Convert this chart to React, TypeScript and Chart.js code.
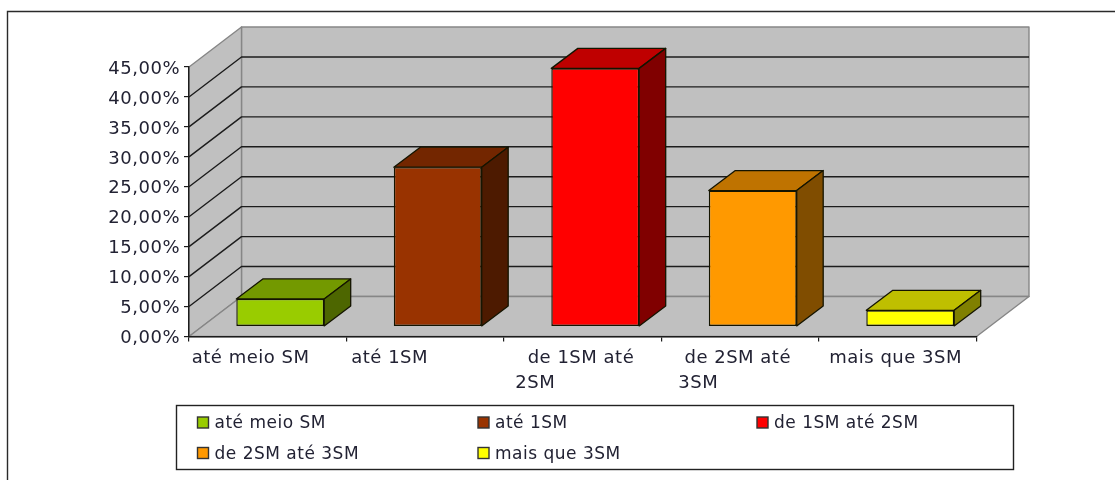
import React, { useEffect, useRef } from "react";
import { Chart, registerables } from "chart.js";

Chart.register(...registerables);

const categories = [["até meio SM"], ["até 1SM"], ["\u00a0\u00a0de 1SM até", "2SM"], ["\u00a0de 2SM até", "3SM"], ["mais que 3SM"]];
const seriesNames = ["até meio SM", "até 1SM", "de 1SM até 2SM", "de 2SM até 3SM", "mais que 3SM"];
const seriesValues = [4.6, 26.6, 43.1, 22.7, 2.7];
const yTicksMax = 45;
const yTickStep = 5;

const frontColors = ["#99cc00", "#993300", "#ff0000", "#ff9900", "#ffff00"];
const topColors = ["#739900", "#732600", "#bf0000", "#bf7300", "#bfbf00"];
const sideColors = ["#4d6600", "#4d1a00", "#800000", "#804d00", "#808000"];

const FONT = '"DejaVu Sans", Verdana, sans-serif';
const TEXT = "#222233";
const WALL = "#c0c0c0";
const EDGE = "#868686";
const GRID = "#1c1c1c";
const DX = 52.5, DY = -40; // depth of the 3D box
const BAR_SHIFT_X = 12.5, BAR_SHIFT_Y = -10;
const BAR_DX = 26.5, BAR_DY = -20;
const LABEL_NUDGE = [0, 2, 8.5, 14, 7.5];
const LEGEND_BOX = { l: 176.5, t: 405.5, r: 1013.5, b: 469.5 };
const LEGEND_CELLS = [[197.5, 422], [478, 422], [757, 422], [197.5, 452.5], [478, 452.5]];

function poly(ctx: CanvasRenderingContext2D, pts: number[][], fill: string | null, stroke: string | null, w = 1) {
  ctx.beginPath();
  pts.forEach((p, i) => (i ? ctx.lineTo(p[0], p[1]) : ctx.moveTo(p[0], p[1])));
  ctx.closePath();
  if (fill) { ctx.fillStyle = fill; ctx.fill(); }
  if (stroke) { ctx.strokeStyle = stroke; ctx.lineWidth = w; ctx.lineJoin = "round"; ctx.stroke(); }
}

const box3d = {
  id: "box3d",
  beforeDraw(chart: any) {
    const { ctx, scales, chartArea: a } = chart;
    (ctx as any).letterSpacing = "0.5px";
    ctx.save();
    ctx.fillStyle = "#fff";
    ctx.fillRect(0, 0, chart.width, chart.height);
    // frame
    ctx.strokeStyle = "#2a2a2a";
    ctx.lineWidth = 1.4;
    ctx.beginPath();
    ctx.moveTo(7.5, 480);
    ctx.lineTo(7.5, 11.5);
    ctx.lineTo(1115, 11.5);
    ctx.stroke();

    const y = scales.y;
    const l = a.left, r = a.right, t = y.getPixelForValue(yTicksMax), b = y.getPixelForValue(0);
    // back wall, side wall, floor
    poly(ctx, [[l + DX, t + DY], [r + DX, t + DY], [r + DX, b + DY], [l + DX, b + DY]], WALL, EDGE, 1.4);
    poly(ctx, [[l, t], [l + DX, t + DY], [l + DX, b + DY], [l, b]], WALL, EDGE, 1.4);
    poly(ctx, [[l, b], [l + DX, b + DY], [r + DX, b + DY], [r, b]], WALL, EDGE, 1.4);
    // grid on the walls
    ctx.strokeStyle = GRID;
    ctx.lineWidth = 1.4;
    y.ticks.forEach((tk: any) => {
      if (tk.value <= 0 || tk.value >= yTicksMax) return;
      const p = y.getPixelForValue(tk.value);
      ctx.beginPath();
      ctx.moveTo(l, p);
      ctx.lineTo(l + DX, p + DY);
      ctx.lineTo(r + DX, p + DY);
      ctx.stroke();
    });
    ctx.restore();

    // individual start of each category label
    scales.x.getLabelItems().forEach((it: any, i: number) => {
      it.options.translation[0] += LABEL_NUDGE[i];
    });
  },
  beforeDatasetDraw(chart: any) {
    chart.ctx.save();
    chart.ctx.translate(BAR_SHIFT_X, BAR_SHIFT_Y);
  },
  afterDatasetDraw(chart: any, args: any) {
    const { ctx } = chart;
    const i = args.index;
    const el = chart.getDatasetMeta(i).data[i];
    if (el) {
      const { x, y, base, width } = el.getProps(["x", "y", "base", "width"], true);
      const L = x - width / 2, R = x + width / 2;
      poly(ctx, [[L, y], [L + BAR_DX, y + BAR_DY], [R + BAR_DX, y + BAR_DY], [R, y]], topColors[i], "#141400", 1.3);
      poly(ctx, [[R, y], [R + BAR_DX, y + BAR_DY], [R + BAR_DX, base + BAR_DY], [R, base]], sideColors[i], "#141400", 1.3);
    }
    ctx.restore();
  },
  afterDraw(chart: any) {
    const { ctx } = chart;
    ctx.save();
    ctx.strokeStyle = "#222";
    ctx.lineWidth = 1.4;
    const B = LEGEND_BOX;
    ctx.fillStyle = "#fff";
    ctx.fillRect(B.l, B.t, B.r - B.l, B.b - B.t);
    ctx.strokeRect(B.l, B.t, B.r - B.l, B.b - B.t);
    ctx.font = `17px ${FONT}`;
    ctx.textBaseline = "middle";
    ctx.textAlign = "left";
    chart.data.datasets.forEach((ds: any, i: number) => {
      const [sx, cy] = LEGEND_CELLS[i];
      ctx.fillStyle = ds.backgroundColor;
      ctx.fillRect(sx, cy - 5, 11, 11);
      ctx.lineWidth = 1.4;
      ctx.strokeStyle = "#333";
      ctx.strokeRect(sx, cy - 5, 11, 11);
      ctx.fillStyle = TEXT;
      ctx.fillText(ds.label, sx + 17, cy + 2);
    });
    ctx.restore();
  },
};

export default function App() {
  const ref = useRef<HTMLCanvasElement>(null);
  useEffect(() => {
    document.body.style.margin = "0";
    document.body.style.background = "#fff";
    const chart = new Chart(ref.current!, {
      type: "bar",
      data: {
        labels: categories as any,
        datasets: seriesNames.map((name, i) => ({
          label: name,
          data: seriesValues.map((v, j) => (j === i ? v : null)),
          backgroundColor: frontColors[i],
          borderColor: "#141400",
          borderWidth: 1.4,
          borderSkipped: false,
          barPercentage: 0.558,
          categoryPercentage: 1,
          clip: false as any,
        })),
      },
      options: {
        animation: false,
        responsive: false,
        devicePixelRatio: 1,
        layout: { padding: { left: 0, top: 67, right: 138.5, bottom: 80 } },
        plugins: { legend: { display: false }, tooltip: { enabled: false }, title: { display: false } },
        scales: {
          x: {
            stacked: true,
            grid: { drawOnChartArea: false, drawTicks: true, tickLength: 5, color: GRID, offset: true, lineWidth: 1.2 },
            border: { color: GRID, width: 1.4 },
            ticks: {
              align: "start",
              labelOffset: -76,
              padding: 4,
              maxRotation: 0,
              autoSkip: false,
              color: TEXT,
              font: { family: FONT, size: 18, lineHeight: 1.39 },
            },
            afterFit: (s: any) => { s.height = 480 - 336.5 - 80; },
          },
          y: {
            stacked: true,
            min: 0,
            max: yTicksMax,
            grid: { drawOnChartArea: false, drawTicks: true, tickLength: 5, color: GRID, lineWidth: 1.2 },
            border: { color: GRID, width: 1.4 },
            ticks: {
              stepSize: yTickStep,
              padding: 4,
              labelOffset: 2,
              color: TEXT,
              font: { family: FONT, size: 18 },
              callback: (v: any) => Number(v).toFixed(2).replace(".", ",") + "%",
            },
            afterFit: (s: any) => { s.width = 189; },
          },
        },
      },
      plugins: [box3d],
    } as any);
    return () => chart.destroy();
  }, []);
  return (
    <div style={{ position: "fixed", left: 0, top: 0, width: 1115, height: 480, overflow: "hidden" }}>
      <canvas ref={ref} width={1115} height={480} style={{ display: "block", width: 1115, height: 480 }} />
    </div>
  );
}
